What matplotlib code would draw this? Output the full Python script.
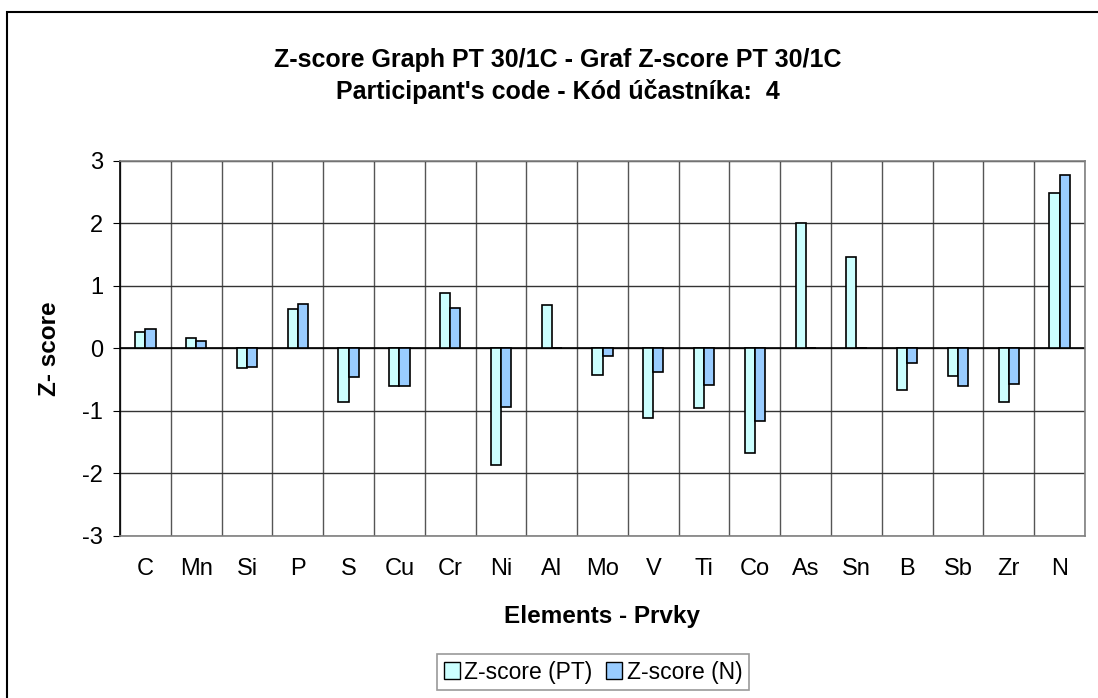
import matplotlib
matplotlib.use("Agg")
import matplotlib.pyplot as plt
from matplotlib.patches import Patch, Rectangle
import numpy as np

plt.rcParams['font.family'] = ['Liberation Sans', 'DejaVu Sans']
plt.rcParams['axes.unicode_minus'] = False

# data
elements = ["C", "Mn", "Si", "P", "S", "Cu", "Cr", "Ni", "Al", "Mo",
            "V", "Ti", "Co", "As", "Sn", "B", "Sb", "Zr", "N"]
z_pt = [0.26, 0.17, -0.31, 0.63, -0.85, -0.60, 0.88, -1.86, 0.69, -0.43,
        -1.11, -0.95, -1.67, 2.00, 1.46, -0.66, -0.45, -0.85, 2.49]
z_n = [0.31, 0.11, -0.30, 0.71, -0.46, -0.60, 0.64, -0.93, 0.0, -0.13,
       -0.38, -0.58, -1.16, 0.0, 0.0, -0.24, -0.60, -0.57, 2.77]
yticks = [-3, -2, -1, 0, 1, 2, 3]

c_pt = "#CCFFFF"
c_n = "#99CCFF"

fig = plt.figure(figsize=(10.98, 6.98), dpi=100)
ax = fig.add_axes([120/1098, 1-536/698, 965/1098, 375.3/698])

x = np.arange(len(elements))
w = 0.2
ax.bar(x - w/2, z_pt, w, color=c_pt, edgecolor="black", linewidth=1.2, zorder=3)
ax.bar(x + w/2, z_n, w, color=c_n, edgecolor="black", linewidth=1.2, zorder=3)

ax.set_xlim(-0.5, len(elements) - 0.5)
ax.set_ylim(-3, 3)
ax.set_yticks(yticks)
ax.set_xticks(x)
ax.set_xticklabels(elements, fontsize=17)
ax.set_xticks(np.arange(len(elements) + 1) - 0.5, minor=True)
ax.tick_params(axis="x", which="both", length=0, pad=16)
ax.tick_params(axis="y", length=5, pad=7, labelsize=17, color="black")

ax.grid(axis="y", color="#333333", linewidth=1, zorder=0)
ax.grid(axis="x", which="minor", color="#555555", linewidth=1, zorder=0)
ax.axhline(0, color="black", linewidth=1.2, zorder=2)

for s in ["top", "right", "bottom"]:
    ax.spines[s].set_color("#808080")
    ax.spines[s].set_linewidth(1.2)
ax.spines["left"].set_color("black")
ax.spines["left"].set_linewidth(1.2)

ax.set_xlabel("Elements - Prvky", fontsize=17.5, fontweight="bold", va="center")
ax.set_ylabel("Z- score", fontsize=17.5, fontweight="bold", va="center")
ax.xaxis.set_label_coords(0.5, (536-616)/375.3)
ax.yaxis.set_label_coords((50-120)/965, 0.5)

fig.text(558/1098, 1-60/698, "Z-score Graph PT 30/1C - Graf Z-score PT 30/1C",
         ha="center", va="center", fontsize=18, fontweight="bold")
fig.text(558/1098, 1-91/698, "Participant's code - Kód účastníka:  4",
         ha="center", va="center", fontsize=18, fontweight="bold")

handles = [Patch(facecolor=c_pt, edgecolor="black", label="Z-score (PT)"),
           Patch(facecolor=c_n, edgecolor="black", label="Z-score (N)")]
leg = fig.legend(handles=handles, loc="center", bbox_to_anchor=(593/1098, 1-672/698),
                 ncol=2, fontsize=16.5, frameon=True, fancybox=False,
                 handlelength=0.7, handleheight=0.7, handletextpad=0.2,
                 columnspacing=0.6, borderpad=0.3, borderaxespad=0)
leg.get_frame().set_edgecolor("#808080")
leg.get_frame().set_linewidth(1.2)

fig.patches.append(Rectangle((7/1098, -0.1), 1.2, (698-12)/698 + 0.1,
                             transform=fig.transFigure, fill=False,
                             edgecolor="black", linewidth=1.5))

fig.savefig("out.png", dpi=100)
